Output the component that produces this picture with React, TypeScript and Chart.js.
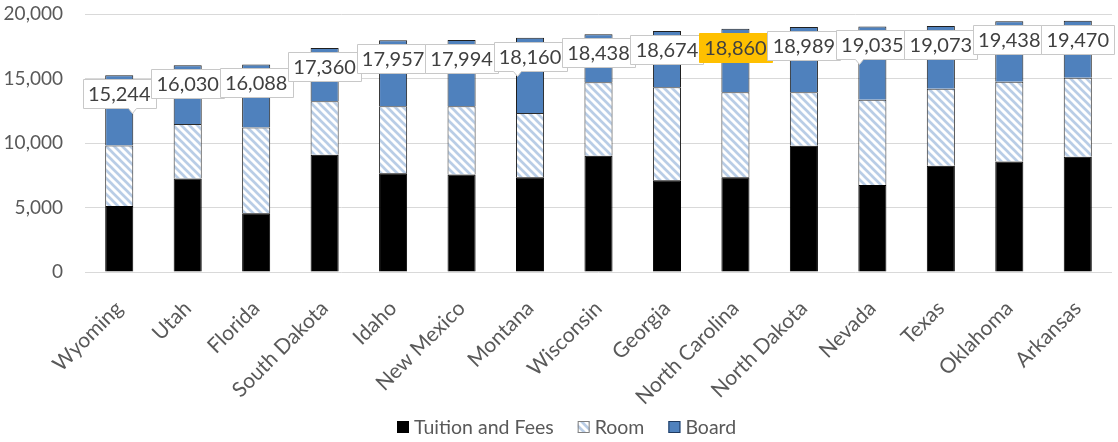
import React, { useEffect, useRef } from "react";
import { Chart, registerables } from "chart.js";
Chart.register(...registerables);

const states = [
  "Wyoming", "Utah", "Florida", "South Dakota", "Idaho", "New Mexico", "Montana",
  "Wisconsin", "Georgia", "North Carolina", "North Dakota", "Nevada", "Texas",
  "Oklahoma", "Arkansas",
];
const tuitionFees = [5115, 7240, 4546, 9085, 7660, 7550, 7350, 9010, 7115, 7350, 9785, 6750, 8230, 8565, 8930];
const room = [4695, 4235, 6664, 4150, 5185, 5295, 4980, 5705, 7210, 6585, 4150, 6595, 5970, 6180, 6125];
const board = [5434, 4555, 4878, 4125, 5112, 5149, 5830, 3723, 4349, 4925, 5054, 5690, 4873, 4693, 4415];
const highlightState = "North Carolina";
const yTicks = [0, 5000, 10000, 15000, 20000];
// callout tail horizontal offset (px from label centre) for labels drawn as callouts
const calloutTails: Record<string, number> = { Wyoming: 13, Montana: -13, Nevada: -13 };

const FONT = "Lato, 'Open Sans', sans-serif";
const TEXT = "#595959";

function makeStripe(): CanvasPattern {
  const c = document.createElement("canvas");
  c.width = 8;
  c.height = 8;
  const g = c.getContext("2d")!;
  g.fillStyle = "#ffffff";
  g.fillRect(0, 0, 8, 8);
  g.strokeStyle = "#B9CDE6";
  g.lineWidth = 2.7;
  g.beginPath();
  g.moveTo(-2, -2); g.lineTo(10, 10);
  g.moveTo(-2, 6); g.lineTo(2, 10);
  g.moveTo(6, -2); g.lineTo(10, 2);
  g.stroke();
  return g.createPattern(c, "repeat")!;
}

const fmt = (v: number) => v.toLocaleString("en-US");

const totalLabels = {
  id: "totalLabels",
  afterDatasetsDraw(chart: any) {
    const ctx = chart.ctx;
    const top = chart.getDatasetMeta(chart.data.datasets.length - 1);
    ctx.save();
    ctx.font = `20px ${FONT}`;
    ctx.textAlign = "center";
    ctx.textBaseline = "middle";
    top.data.forEach((el: any, i: number) => {
      const total = chart.data.datasets.reduce((s: number, d: any) => s + d.data[i], 0);
      const text = fmt(total);
      const w = Math.round(ctx.measureText(text).width + 10);
      const h = 29;
      const x = el.x;
      const y = Math.round(el.y + 4);
      const name = chart.data.labels[i];
      const hl = name === highlightState;
      const left = Math.round(x - w / 2) + 0.5;
      const tb = y + 0.5;
      ctx.beginPath();
      ctx.moveTo(left, tb);
      ctx.lineTo(left + w, tb);
      ctx.lineTo(left + w, tb + h);
      const tail = calloutTails[name];
      if (tail !== undefined) {
        const tx = Math.round(x + tail) + 0.5;
        ctx.lineTo(tx + 4, tb + h);
        ctx.lineTo(tx, tb + h + 5);
        ctx.lineTo(tx - 4, tb + h);
      }
      ctx.lineTo(left, tb + h);
      ctx.closePath();
      ctx.fillStyle = hl ? "#FFC000" : "#ffffff";
      ctx.fill();
      ctx.strokeStyle = hl ? "#FFC000" : "#C8C8C8";
      ctx.lineWidth = 1;
      ctx.stroke();
      ctx.fillStyle = "#404040";
      ctx.fillText(text, x, y + h / 2 + 1);
    });
    ctx.restore();
  },
};

const customLegend = {
  id: "customLegend",
  afterDraw(chart: any) {
    const ctx = chart.ctx;
    ctx.save();
    ctx.font = `19.5px ${FONT}`;
    ctx.textBaseline = "middle";
    ctx.textAlign = "left";
    const box = 12, gap = 5, itemGap = 24;
    const items = chart.data.datasets.map((d: any) => ({
      label: d.label, fill: d.backgroundColor, stroke: d.legendBorder,
      w: box + gap + ctx.measureText(d.label).width,
    }));
    const total = items.reduce((s: number, it: any) => s + it.w, 0) + itemGap * (items.length - 1);
    let x = Math.round(chart.width / 2 + 8 - total / 2);
    const cy = 427;
    items.forEach((it: any) => {
      ctx.fillStyle = it.fill;
      ctx.fillRect(x, cy - box / 2, box, box);
      ctx.strokeStyle = it.stroke;
      ctx.lineWidth = 1;
      ctx.strokeRect(x + 0.5, cy - box / 2 + 0.5, box - 1, box - 1);
      ctx.fillStyle = TEXT;
      ctx.fillText(it.label, x + box + gap, cy + 1);
      x += it.w + itemGap;
    });
    ctx.restore();
  },
};

export default function App() {
  const ref = useRef<HTMLCanvasElement>(null);
  useEffect(() => {
    const stripe = makeStripe();
    const chart = new Chart(ref.current!, {
      type: "bar",
      data: {
        labels: states,
        datasets: [
          { label: "Tuition and Fees", data: tuitionFees, backgroundColor: "#000000", borderColor: "#000000", borderWidth: 1, legendBorder: "#000000" } as any,
          { label: "Room", data: room, backgroundColor: stripe, borderColor: "#2b2b2b", borderWidth: 1, legendBorder: "#7f7f7f" } as any,
          { label: "Board", data: board, backgroundColor: "#4F81BD", borderColor: "#1f1f1f", borderWidth: 1, legendBorder: "#1f3a5f" } as any,
        ],
      },
      options: {
        responsive: false,
        animation: false,
        layout: { padding: { top: 14, right: 6, left: 0, bottom: 0 } },
        plugins: { legend: { display: false }, tooltip: { enabled: false } },
        datasets: { bar: { categoryPercentage: 1, barPercentage: 0.41, borderSkipped: "start" } } as any,
        scales: {
          x: {
            stacked: true,
            grid: { display: false },
            border: { display: false },
            ticks: {
              minRotation: 45, maxRotation: 45, autoSkip: false,
              color: TEXT, font: { family: FONT, size: 21 }, padding: 16,
            },
            afterFit: (s: any) => { s.height = 170; s.paddingLeft = 0; s.paddingRight = 0; },
          },
          y: {
            stacked: true,
            min: 0, max: 20000,
            afterBuildTicks: (s: any) => { s.ticks = yTicks.map((v) => ({ value: v })); },
            grid: { color: "#D9D9D9", lineWidth: 1, drawTicks: false },
            border: { display: false },
            ticks: {
              color: TEXT, font: { family: FONT, size: 19 }, padding: 22,
              callback: (v: any) => fmt(Number(v)),
            },
            afterFit: (s: any) => { s.width = 85; s.paddingTop = 0; s.paddingBottom = 0; },
          },
        },
      },
      plugins: [totalLabels, customLegend],
    });
    return () => chart.destroy();
  }, []);
  return (
    <div style={{ position: "absolute", left: 0, top: 0, width: 1118, height: 442, background: "#fff" }}>
      <canvas ref={ref} width={1118} height={442} />
    </div>
  );
}
